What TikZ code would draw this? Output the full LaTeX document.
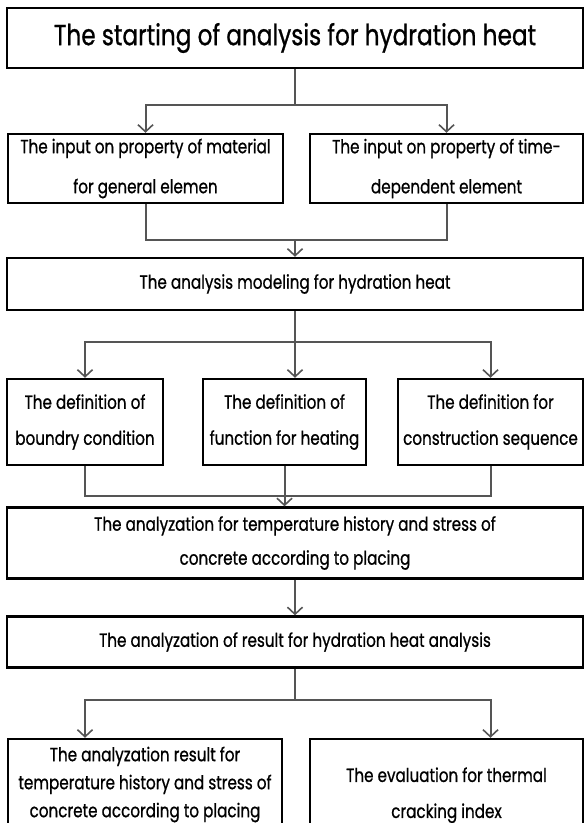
\documentclass[tikz,border=0pt]{standalone}
\usepackage{fontspec}
\setmainfont{Poppins}[FakeStretch=0.8,FakeBold=0.8]
\usetikzlibrary{arrows.meta}

\begin{document}
\begin{tikzpicture}[x=1pt,y=-1pt,
    box/.style={draw,line width=2.4pt,align=center,inner sep=0pt,
                font={\fontsize{19}{29}\selectfont}},
    link/.style={line width=2pt,draw={rgb,255:red,85;green,85;blue,85}},
    flow/.style={link,-{Straight Barb[length=7pt,width=15pt,line width=1.6pt]}}]
    \useasboundingbox (0,0) rectangle (585,823);
    %START
    \node[box,minimum width=576pt,minimum height=60pt,font={\fontsize{29}{30}\selectfont}]
         (r1) at (295,38) {The starting of analysis for hydration heat};
    %INPUT
    \node[box,minimum width=275pt,minimum height=69pt,font={\fontsize{19}{40}\selectfont}]
         (r2a) at (145.5,168.5) {The input on property of material\\for general elemen};
    \node[box,minimum width=273pt,minimum height=69pt,font={\fontsize{19}{40}\selectfont}]
         (r2b) at (446.5,168.5) {The input on property of time-\\dependent element};
    %MODEL
    \node[box,minimum width=576pt,minimum height=52pt] (r3) at (295,284)
         {The analysis modeling for hydration heat};
    \node[box,minimum width=156pt,minimum height=86pt,font={\fontsize{19}{36}\selectfont}]
         (r4a) at (85,422) {The definition of\\boundry condition};
    \node[box,minimum width=163pt,minimum height=86pt,font={\fontsize{19}{36}\selectfont}]
         (r4b) at (284.5,422) {The definition of\\function for heating};
    \node[box,minimum width=185pt,minimum height=86pt,font={\fontsize{19}{36}\selectfont}]
         (r4c) at (490.5,422) {The definition for\\construction sequence};
    %RESULT
    \node[box,minimum width=576pt,minimum height=71pt,font={\fontsize{19}{34}\selectfont}]
         (r5) at (295,543)
         {The analyzation for temperature history and stress of\\concrete according to placing};
    \node[box,minimum width=576pt,minimum height=51pt] (r6) at (295,642)
         {The analyzation of result for hydration heat analysis};
    \node[box,minimum width=274pt,minimum height=91pt,font={\fontsize{19}{28}\selectfont}]
         (r7a) at (145,784.5) {The analyzation result for\\temperature history and stress of\\concrete according to placing};
    \node[box,minimum width=273pt,minimum height=91pt,font={\fontsize{19}{36}\selectfont}]
         (r7b) at (446.5,784.5) {\rule{0pt}{36pt}The evaluation for thermal\\cracking index};

    % connectors
    \coordinate (s1) at (r1.south |- 0,105);
    \draw[link] (r1.south) -- (s1);
    \draw[flow] (s1) -| (r2a.north);
    \draw[flow] (s1) -| (r2b.north);
    \coordinate (j2) at (r1.south |- 0,240);
    \draw[link] (r2a.south) |- (j2) -| (r2b.south);
    \draw[flow] (j2) -- (r3.north);

    \coordinate (s3) at (r3.south |- 0,342);
    \draw[link] (r3.south) -- (s3);
    \draw[flow] (s3) -| (r4a.north);
    \draw[flow] (s3) -- (s3 |- r4b.north);
    \draw[flow] (s3) -| (r4c.north);
    \coordinate (j4) at (r4b.south |- 0,496);
    \draw[link] (r4a.south) |- (j4) -| (r4c.south);
    \draw[link] (r4b.south) -- (j4);
    \draw[flow] (j4) -- (j4 |- r5.north);

    \draw[flow] (r5.south) -- (r6.north);
    \coordinate (s6) at (r6.south |- 0,700);
    \draw[link] (r6.south) -- (s6);
    \draw[flow] (s6) -| (r4a.south |- r7a.north);
    \draw[flow] (s6) -| (r4c.south |- r7b.north);
\end{tikzpicture}
\end{document}
